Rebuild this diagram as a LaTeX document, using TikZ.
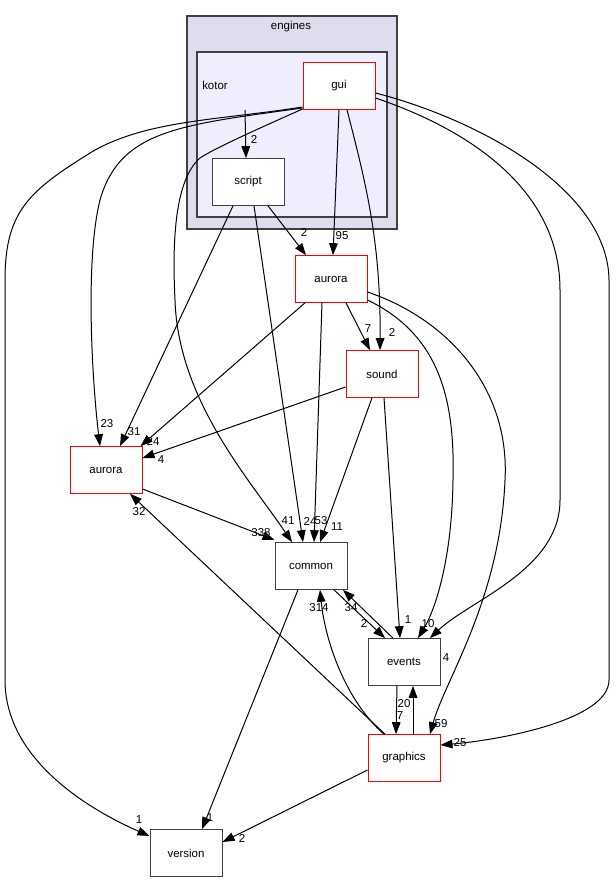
\documentclass[tikz,border=0pt]{standalone}
\usepackage{fontspec}
\setmainfont{Liberation Sans}
\usetikzlibrary{arrows.meta,calc}
\definecolor{clusterA}{HTML}{DDDDEE}
\definecolor{clusterB}{HTML}{EEEEFF}
\definecolor{edgegray}{HTML}{404040}
\begin{document}
\begin{tikzpicture}[x=0.75pt,y=-0.75pt,
  box/.style={draw=edgegray, line width=0.75pt, fill=white, minimum width=54pt, minimum height=35pt, inner sep=0pt, font=\fontsize{8.6}{10}\selectfont},
  rbox/.style={box, draw=red},
  edge/.style={draw, line width=0.75pt, -{Triangle[length=9pt,width=6.5pt]}},
  lbl/.style={font=\fontsize{8.6}{10}\selectfont, inner sep=0pt},
  clus/.style={draw=edgegray, line width=1.1pt}]
\useasboundingbox (0,0) rectangle (616,884);
% clusters
\draw[clus, fill=clusterA] (187,16) rectangle (397,229);
\node[lbl] (engineslbl) at (291,27) {engines};
\draw[clus, fill=clusterB] (197,52) rectangle (387,217);
\node[lbl] (kotor) at (215,85) {kotor};
\coordinate (kotorpt) at (245,110);
% nodes
\node[rbox] (gui) at (339,86) {gui};
\node[box] (script) at (248,182) {script};
\node[rbox] (auroraE) at (331,279) {aurora};
\node[rbox] (sound) at (382,374) {sound};
\node[rbox] (auroraL) at (106,470) {aurora};
\node[box] (common) at (311,566) {common};
\node[box] (events) at (404,662) {events};
\node[rbox] (graphics) at (404,758) {graphics};
\node[box] (version) at (186,853) {version};
% edges
\draw[edge] (kotorpt) -- ($(script.north)+(-2,0)$);
\draw[edge] ($(script.south)+(20,0)$) -- ($(auroraE.north)+(-25,0)$);
\draw[edge] (gui.south) -- ($(auroraE.north)+(2,0)$);
\draw[edge] ($(gui.south)+(8,0)$) .. controls (365,180) and (381,240) .. ($(sound.north)+(-2,0)$);
% gui -> auroraL (23)
\draw[edge] ($(gui.west)+(0,22)$) .. controls (180,125) and (120,130) .. (100,200) .. controls (85,260) and (92,380) .. ($(auroraL.north)+(-6,0)$);
% gui -> version
\draw[edge] ($(gui.west)+(0,21)$) .. controls (220,120) and (150,120) .. (95,150) .. controls (30,190) and (5,210) .. (5,280) -- (5,680) .. controls (5,760) and (90,810) .. ($(version.west)+(0,-17)$);
% gui -> common (41)
\draw[edge] ($(gui.west)+(0,23)$) .. controls (260,128) and (215,148) .. (200,158) .. controls (175,180) and (172,240) .. (175,300) .. controls (178,400) and (250,480) .. ($(common.north)+(-19,0)$);
% gui -> events (4)
\draw[edge] ($(gui.east)+(0,12)$) .. controls (470,130) and (560,190) .. (560,290) -- (560,500) .. controls (560,570) and (470,600) .. ($(events.north)+(26,0)$);
% gui -> graphics (25)
\draw[edge] ($(gui.east)+(0,7)$) .. controls (480,120) and (608,190) .. (609,280) -- (609,680) .. controls (609,720) and (500,740) .. ($(graphics.east)+(0,-13)$);
% script -> auroraL, common
\draw[edge] ($(script.south)+(-15,0)$) -- ($(auroraL.north)+(14,0)$);
\draw[edge] ($(script.south)+(6,0)$) -- ($(common.north)+(-8,0)$);
% auroraE edges
\draw[edge] ($(auroraE.south)+(-26,0)$) -- ($(auroraL.north east)+(-2,0)$);
\draw[edge] ($(auroraE.south)+(-9,0)$) -- ($(common.north)+(3,0)$);
\draw[edge] ($(auroraE.south)+(15,0)$) -- ($(sound.north)+(-12,0)$);
\draw[edge] ($(auroraE.east)+(0,21)$) .. controls (440,335) and (455,400) .. (453,480) .. controls (452,560) and (435,610) .. ($(events.north)+(14,0)$);
\draw[edge] ($(auroraE.east)+(0,13)$) .. controls (450,320) and (510,390) .. (505,480) .. controls (500,600) and (445,680) .. ($(graphics.north)+(26,0)$);
% sound edges
\draw[edge] ($(sound.west)+(0,13)$) -- ($(auroraL.east)+(0,-12)$);
\draw[edge] ($(sound.south)+(-10,0)$) -- ($(common.north)+(9,0)$);
\draw[edge] ($(sound.south)+(2,0)$) -- ($(events.north)+(-4,0)$);
% auroraL -> common
\draw[edge] ($(auroraL.east)+(0,19)$) -- ($(common.west)+(0,-26)$);
% common <-> events
\draw[edge] ($(common.south)+(23,0)$) -- ($(events.north)+(-19,0)$);
\draw[edge] ($(events.north)+(-11,0)$) -- ($(common.south)+(32,0)$);
% common -> version
\draw[edge] ($(common.south)+(-13,0)$) -- ($(version.north)+(16,0)$);
% graphics edges
\draw[edge] ($(graphics.north)+(-20,0)$) .. controls (345,700) and (325,640) .. ($(common.south)+(9,0)$);
\draw[edge] ($(events.south)+(-7,0)$) -- ($(graphics.north)+(-8,0)$);
\draw[edge] ($(graphics.north)+(9,0)$) -- ($(events.south)+(9,0)$);
\draw[edge] ($(graphics.north)+(-19,0)$) -- ($(auroraL.south)+(24,0)$);
\draw[edge] ($(graphics.west)+(0,12)$) -- ($(version.east)+(0,-11)$);
% labels
\node[lbl] (t1) at (254,139) {2};
\node[lbl] (t2) at (304,232) {2};
\node[lbl] (t3) at (342,236) {95};
\node[lbl] (t4) at (392,332) {2};
\node[lbl] (t5) at (107,424) {23};
\node[lbl] (t6) at (134,432) {31};
\node[lbl] (t7) at (153,441) {24};
\node[lbl] (t8) at (161,460) {4};
\node[lbl] (t9) at (139,512) {32};
\node[lbl] (t10) at (261,533) {338};
\node[lbl] (t11) at (288,521) {41};
\node[lbl] (t12) at (310,521) {24};
\node[lbl] (t13) at (321,521) {53};
\node[lbl] (t14) at (337,527) {11};
\node[lbl] (t15) at (368,329) {7};
\node[lbl] (t16) at (408,620) {1};
\node[lbl] (t17) at (428,624) {10};
\node[lbl] (t18) at (446,658) {4};
\node[lbl] (t19) at (364,623) {2};
\node[lbl] (t20) at (351,608) {34};
\node[lbl] (t21) at (319,608) {314};
\node[lbl] (t22) at (404,704) {20};
\node[lbl] (t23) at (400,716) {7};
\node[lbl] (t24) at (441,724) {59};
\node[lbl] (t25) at (460,743) {25};
\node[lbl] (t26) at (139,820) {1};
\node[lbl] (t27) at (210,818) {1};
\node[lbl] (t28) at (242,838) {2};
\end{tikzpicture}
\end{document}
